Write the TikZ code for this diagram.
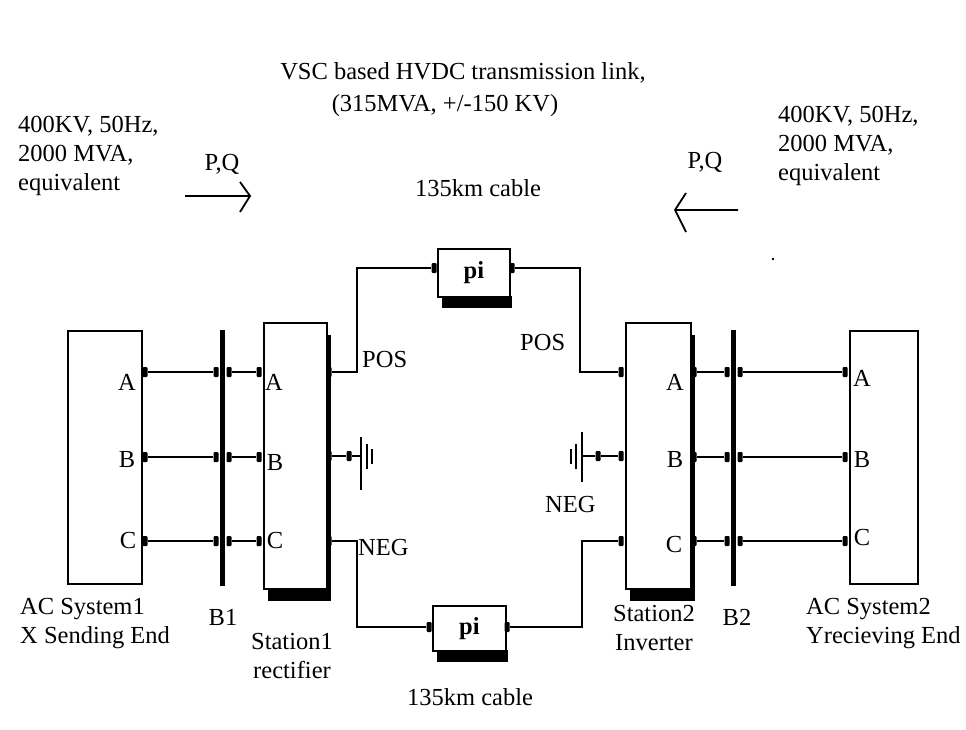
\documentclass[tikz,border=0pt]{standalone}
\usepackage{fontspec}
\setmainfont{Liberation Serif}
\begin{document}
\begin{tikzpicture}[x=1pt,y=-1pt,
  txt/.style={font=\fontsize{24.5}{29}\selectfont, inner sep=0pt, align=left},
  blk/.style={draw, line width=1.8pt, fill=white},
  wire/.style={line width=2.8pt},
  pad/.style={fill=black, minimum width=5pt, minimum height=10pt, inner sep=0pt, rounded corners=1pt},
  bus/.style={line width=5pt},
  shadow/.style={fill=black}]
\useasboundingbox (0,0) rectangle (966,730);
% AC system boxes
\node[blk, minimum width=74pt, minimum height=253pt, anchor=north west] (S1) at (67,330) {};
\node[blk, minimum width=68pt, minimum height=253pt, anchor=north west] (S2) at (849,330) {};
% stations with shadows
\fill[shadow] (268,588) rectangle (331,601);
\fill[shadow] (326,335) rectangle (331,601);
\node[blk, minimum width=63pt, minimum height=266pt, anchor=north west] (ST1) at (263,322) {};
\fill[shadow] (630,588) rectangle (695,601);
\fill[shadow] (690,335) rectangle (695,601);
\node[blk, minimum width=65pt, minimum height=266pt, anchor=north west] (ST2) at (625,322) {};
% pi boxes
\fill[shadow] (442,296) rectangle (512,308);
\node[blk, minimum width=72pt, minimum height=48pt, anchor=north west, font=\fontsize{24.5}{29}\selectfont\bfseries] (PI1) at (437,248) {pi};
\fill[shadow] (437,650) rectangle (508,662);
\node[blk, minimum width=73pt, minimum height=45pt, anchor=north west, font=\fontsize{24.5}{29}\selectfont\bfseries] (PI2) at (432,605) {pi};
% buses
\coordinate (B1t) at (222,330); \coordinate (B1b) at (222,586);
\coordinate (B2t) at (733,330); \coordinate (B2b) at (733,586);
\draw[bus] (B1t) -- (B1b);
\draw[bus] (B2t) -- (B2b);
% phase wires
\foreach \n/\y in {A/372,B/457,C/541}{
  \node[pad] (s1\n) at (145,\y) {};
  \node[pad] (b1l\n) at (216,\y) {};
  \node[pad] (b1r\n) at (229,\y) {};
  \node[pad] (t1\n) at (259,\y) {};
  \draw[wire] (s1\n) -- (b1l\n);
  \draw[wire] (b1r\n) -- (t1\n);
  \node[pad] (t2\n) at (694,\y) {};
  \node[pad] (b2l\n) at (727,\y) {};
  \node[pad] (b2r\n) at (740,\y) {};
  \node[pad] (s2\n) at (845,\y) {};
  \draw[wire] (t2\n) -- (b2l\n);
  \draw[wire] (b2r\n) -- (s2\n);
}
\node[txt] (la1) at (127,382) {A}; \node[txt] (lb1) at (127,460) {B}; \node[txt] (lc1) at (128,541) {C};
\node[txt] (la2) at (274,382) {A}; \node[txt] (lb2) at (275,463) {B}; \node[txt] (lc2) at (275,541) {C};
\node[txt] (la3) at (675,382) {A}; \node[txt] (lb3) at (675,460) {B}; \node[txt] (lc3) at (674,545) {C};
\node[txt] (la4) at (862,378) {A}; \node[txt] (lb4) at (862,460) {B}; \node[txt] (lc4) at (862,538) {C};
% DC ports
\node[pad] (p1) at (329,372) {}; \node[pad] (g1) at (329,456) {}; \node[pad] (n1) at (329,541) {};
\node[pad] (p2) at (621,372) {}; \node[pad] (g2) at (621,456) {}; \node[pad] (n2) at (621,541) {};
\node[pad] (pi1l) at (434,268) {}; \node[pad] (pi1r) at (512,268) {};
\node[pad] (pi2l) at (429,627) {}; \node[pad] (pi2r) at (507,627) {};
\draw[line width=2pt] (p1) -| (357,268) -- (pi1l);
\draw[line width=2pt] (pi1r) -| (580,372) -- (p2);
\draw[line width=2pt] (n1) -| (357,627) -- (pi2l);
\draw[line width=2pt] (pi2r) -| (582,541) -- (n2);
% grounds
\node[pad] (gp1) at (349,456) {};
\draw[wire] (g1) -- (gp1) -- (361,456);
\draw[line width=2pt] (361,437) -- (361,490);
\draw[line width=1.7pt] (367,444) -- (367,469);
\draw[line width=1.7pt] (372,449) -- (372,464);
\node[pad] (gp2) at (598,456) {};
\draw[wire] (g2) -- (gp2) -- (582,456);
\draw[line width=2pt] (582,432) -- (582,482);
\draw[line width=1.7pt] (576,444) -- (576,469);
\draw[line width=1.7pt] (571,449) -- (571,464);
% DC labels
\node[txt, anchor=west] (pos1) at (362,360) {POS};
\node[txt, anchor=west] (pos2) at (520,343) {POS};
\node[txt, anchor=west] (neg1) at (358,548) {NEG};
\node[txt, anchor=west] (neg2) at (545,505) {NEG};
% top texts
\node[txt] (t1) at (463,73) {VSC based HVDC transmission link,};
\node[txt] (t2) at (445,106) {(315MVA, +/-150 KV)};
\node[txt] (t3) at (478,188) {135km cable};
\node[txt, anchor=north west] (left) at (18,116) {400KV, 50Hz,\\2000 MVA,\\equivalent};
\node[txt, anchor=north west] (right) at (778,106) {400KV, 50Hz,\\2000 MVA,\\equivalent};
\node[txt] (pq1) at (222,164) {P,Q};
\node[txt] (pq2) at (705,162) {P,Q};
\coordinate (a1s) at (185,196); \coordinate (a1e) at (250,196);
\coordinate (a2s) at (738,210); \coordinate (a2e) at (675,210);
\draw[line width=1.8pt] (a1s) -- (a1e) (240,182) -- (250,196) -- (240,212);
\draw[line width=1.8pt] (a2s) -- (a2e) (686,193) -- (675,210) -- (686,232);
\fill (773,259) circle (1.3pt);
% bottom texts
\node[txt, anchor=north west] (bs1) at (20,598) {AC System1\\X Sending End};
\node[txt] (bb1) at (223,617) {B1};
\node[txt, align=center] (bst1) at (292,656) {Station1\\rectifier};
\node[txt] (bc) at (470,697) {135km cable};
\node[txt, align=center] (bst2) at (654,628) {Station2\\Inverter};
\node[txt] (bb2) at (737,617) {B2};
\node[txt, anchor=north west] (bs2) at (806,598) {AC System2\\Yrecieving End};
\end{tikzpicture}
\end{document}
